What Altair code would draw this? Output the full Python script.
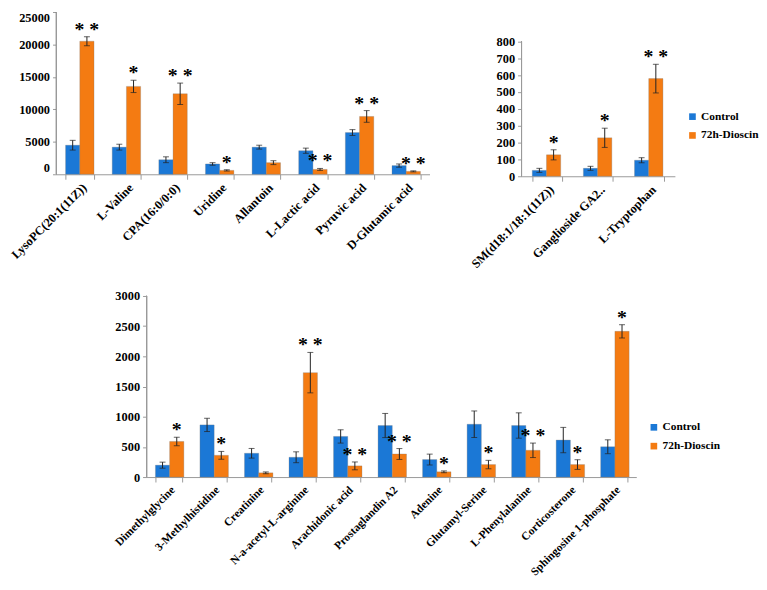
import altair as alt
import pandas as pd

groups = ["Control", "72h-Dioscin"]
colors = ["#1b78d6", "#f47b12"]

# top-left panel
tl_cats = ["LysoPC(20:1(11Z))", "L-Valine", "CPA(16:0/0:0)", "Uridine", "Allantoin",
           "L-Lactic acid", "Pyruvic acid", "D-Glutamic acid"]
tl_ctrl = [4480, 4180, 2240, 1590, 4180, 3630, 6430, 1340]
tl_ctrl_err = [750, 450, 450, 200, 300, 400, 450, 250]
tl_dio = [20500, 13540, 12400, 600, 1790, 750, 8910, 450]
tl_dio_err = [700, 950, 1650, 100, 300, 150, 900, 80]
tl_sig = ["**", "*", "**", "*", "", "**", "**", "**"]

# top-right panel
tr_cats = ["SM(d18:1/18:1(11Z))", "Ganglioside GA2..", "L-Tryptophan"]
tr_ctrl = [35, 47, 95]
tr_ctrl_err = [12, 12, 15]
tr_dio = [127, 228, 579]
tr_dio_err = [30, 57, 85]
tr_sig = ["*", "*", "**"]

# bottom panel
bl_cats = ["Dimethylglycine", "3-Methylhistidine", "Creatinine", "N-a-acetyl-L-arginine",
           "Arachidonic acid", "Prostaglandin A2", "Adenine", "Glutamyl-Serine",
           "L-Phenylalanine", "Corticosterone", "Sphingosine 1-phosphate"]
bl_ctrl = [197, 864, 394, 328, 673, 854, 290, 875, 854, 613, 502]
bl_ctrl_err = [50, 110, 80, 90, 110, 200, 90, 220, 210, 210, 115]
bl_dio = [590, 360, 70, 1730, 185, 382, 87, 207, 443, 207, 2414]
bl_dio_err = [70, 65, 15, 335, 65, 90, 15, 70, 120, 80, 110]
bl_sig = ["*", "*", "", "**", "**", "**", "*", "*", "**", "*", "*"]

SERIF = "Liberation Serif"
AX = "#9a9a9a"


def build_df(cats, ctrl, ctrl_err, dio, dio_err, sig):
    rows = []
    for i, c in enumerate(cats):
        rows.append(dict(cat=c, grp=groups[0], val=ctrl[i], lo=ctrl[i] - ctrl_err[i],
                         hi=ctrl[i] + ctrl_err[i], sig=""))
        rows.append(dict(cat=c, grp=groups[1], val=dio[i], lo=dio[i] - dio_err[i],
                         hi=dio[i] + dio_err[i], sig=" ".join(list(sig[i]))))
    return pd.DataFrame(rows)


def panel(cats, ctrl, ctrl_err, dio, dio_err, sig, ymax, dmax, step, width, height,
          pad, legend=None, flush=False, xfont=12.5):
    df = build_df(cats, ctrl, ctrl_err, dio, dio_err, sig)
    base = alt.Chart(df)
    xscale = alt.Scale(paddingInner=pad, paddingOuter=pad / 2)
    xaxis = alt.Axis(labelAngle=-45, tickBand="extent", tickSize=5,
                     labelPadding=2, labelLimit=300, labelFont=SERIF,
                     labelFontWeight="bold", labelFontSize=xfont,
                     labelColor="black", domainColor=AX, tickColor=AX)
    yscale = alt.Scale(domain=[0, dmax], nice=False, zero=True)
    yaxis = alt.Axis(values=list(range(0, ymax + 1, step)), grid=False,
                     domain=False, tickSize=4, labelOverlap=False,
                     labelFlush=flush, labelPadding=3, format="d",
                     labelFont=SERIF, labelFontWeight="bold", labelFontSize=12.5,
                     labelColor="black", tickColor=AX)
    x = alt.X("cat:N", sort=cats, title=None, scale=xscale, axis=xaxis)

    def yf(field):
        return alt.Y(field, title=None, scale=yscale, axis=yaxis)

    xo = alt.XOffset("grp:N", sort=groups)
    if legend is None:
        col = alt.Color("grp:N", sort=groups, legend=None,
                        scale=alt.Scale(domain=groups, range=colors))
    else:
        col = alt.Color("grp:N", sort=groups,
                        scale=alt.Scale(domain=groups, range=colors),
                        legend=alt.Legend(title=None, orient="none", legendX=legend[0],
                                          legendY=legend[1], symbolType="square",
                                          symbolSize=45, symbolStrokeWidth=0,
                                          rowPadding=6, labelOffset=3,
                                          labelFont=SERIF, labelFontWeight="bold",
                                          labelFontSize=11.5, labelColor="black"))
    bars = base.mark_bar(strokeWidth=0.6, stroke="#7a7a7a", strokeOpacity=0.5).encode(
        x=x, xOffset=xo, y=yf("val:Q"), color=col)
    rule = base.mark_rule(color="#222222", strokeWidth=1).encode(
        x=x, xOffset=xo, y=yf("lo:Q"), y2="hi:Q")
    cap_hi = base.mark_tick(color="#222222", thickness=1, size=6).encode(
        x=x, xOffset=xo, y=yf("hi:Q"))
    cap_lo = base.mark_tick(color="#222222", thickness=1, size=6).encode(
        x=x, xOffset=xo, y=yf("lo:Q"))
    stars = base.mark_text(font=SERIF, fontSize=20, fontWeight="bold", color="black",
                           baseline="alphabetic", dy=-1).encode(
        x=x, xOffset=xo, y=yf("hi:Q"), text="sig:N")
    yline = base.mark_rule(color=AX, strokeWidth=1).encode(
        x=alt.value(0), y=alt.Y(datum=0, scale=yscale, axis=yaxis, title=None),
        y2=alt.Y2(datum=ymax))
    return alt.layer(bars, rule, cap_hi, cap_lo, stars, yline).properties(
        width=width, height=height)


tl = panel(tl_cats, tl_ctrl, tl_ctrl_err, tl_dio, tl_dio_err, tl_sig,
           25000, 25000, 5000, 377, 164, 0.39, flush=True)
tr = panel(tr_cats, tr_ctrl, tr_ctrl_err, tr_dio, tr_dio_err, tr_sig,
           800, 974, 100, 155, 166, 0.42, legend=(167, 100))
bl = panel(bl_cats, bl_ctrl, bl_ctrl_err, bl_dio, bl_dio_err, bl_sig,
           3000, 3000, 500, 495, 183, 0.40, legend=(507, 127), xfont=11.5)

spacer = alt.Chart(pd.DataFrame({"a": [0]})).mark_point(opacity=0).encode(
    x=alt.value(0), y=alt.value(0)).properties(width=57, height=1)

top = alt.hconcat(tl, tr, spacing=39).resolve_scale(color="independent")
bottom = alt.hconcat(spacer, bl, spacing=0).resolve_scale(color="independent")
chart = alt.vconcat(top, bottom, spacing=20).resolve_scale(
    color="independent").properties(padding=0, background="white").configure_view(
    stroke=None)

chart.save("out.html", embed_options={"renderer": "svg", "actions": False})
